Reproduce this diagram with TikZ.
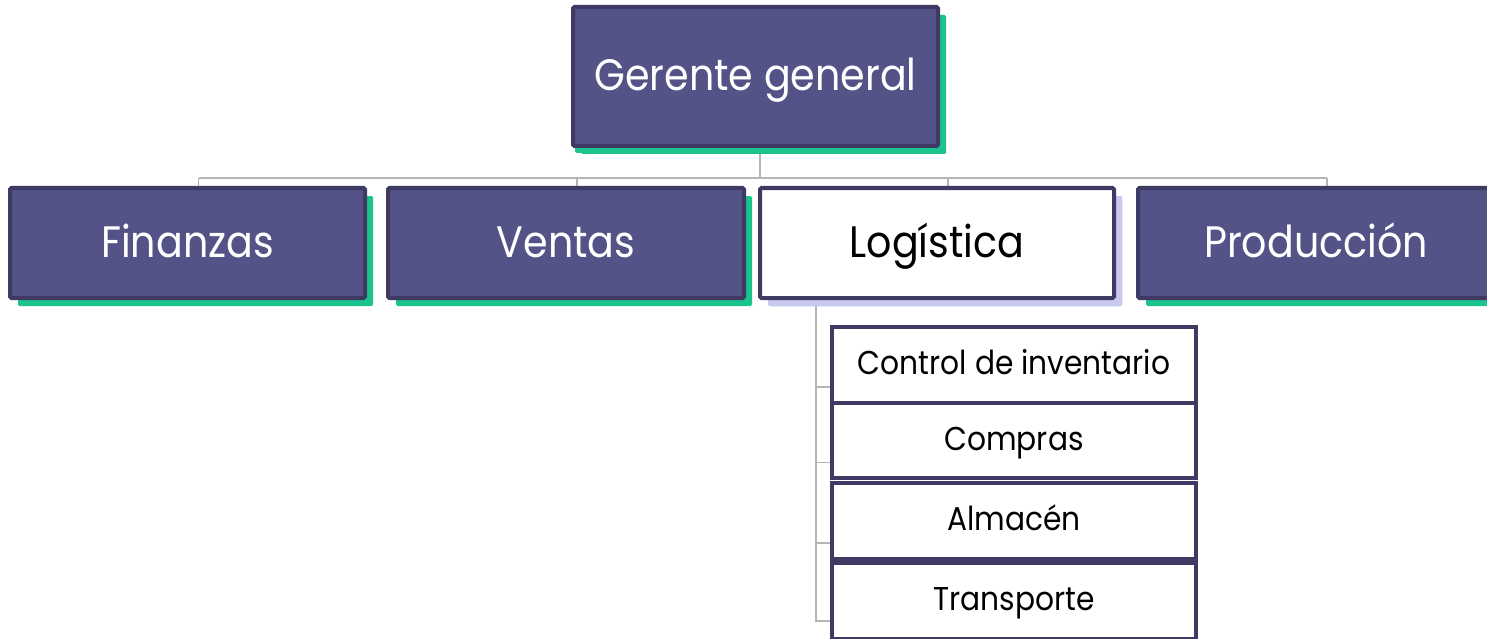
\documentclass[tikz,border=0pt]{standalone}
\usepackage{fontspec}
\setmainfont{Poppins}[FakeStretch=0.9]
\usetikzlibrary{shadows,backgrounds}
\definecolor{boxfill}{HTML}{535388}
\definecolor{boxline}{HTML}{3E3A63}
\definecolor{shadegreen}{HTML}{1BC48F}
\definecolor{shadelav}{HTML}{C9C9F1}
\definecolor{linkgray}{HTML}{B4B4B4}
\tikzset{
  unit/.style={draw=boxline,line width=4pt,rounded corners=1.5pt,inner sep=0pt,
    fill=boxfill,text=white,font=\fontsize{44}{48}\selectfont,
    text height=28pt,text depth=0pt,
    drop shadow={shadow xshift=8pt,shadow yshift=-8pt,fill=shadegreen,opacity=1}},
  chosen/.style={unit,fill=white,text=black,
    drop shadow={shadow xshift=8pt,shadow yshift=-8pt,fill=shadelav,opacity=1}},
  subunit/.style={draw=boxline,line width=4pt,inner sep=0pt,fill=white,text=black,
    minimum width=364pt,font=\fontsize{33}{36}\selectfont,
    text height=19pt,text depth=0pt},
  link/.style={draw=linkgray,line width=1.5pt}
}
\begin{document}
\begin{tikzpicture}[x=1pt,y=-1pt]
\useasboundingbox (0,0) rectangle (1487,639);
% top
\node[unit,minimum width=365pt,minimum height=139pt,
  drop shadow={shadow xshift=2pt,shadow yshift=-7pt,fill=shadegreen,opacity=1}]
  (gg) at (755.5,76.5) {Gerente general};
% departments
\node[unit,minimum width=355pt,minimum height=110pt] (fin) at (187.5,243) {Finanzas};
\node[unit,minimum width=356pt,minimum height=110pt] (ven) at (566,243) {Ventas};
\node[chosen,minimum width=354pt,minimum height=110pt] (log) at (937,243) {Logística};
\node[unit,minimum width=356pt,minimum height=110pt] (pro) at (1316,243) {Producción};
% logistics units
\node[subunit,minimum height=76pt] (inv) at (1014,365) {Control de inventario};
\node[subunit,minimum height=75pt] (com) at (1014,440.5) {Compras};
\node[subunit,minimum height=76pt] (alm) at (1014,521) {Almacén};
\node[subunit,minimum height=76pt] (tra) at (1014,601) {Transporte};
\begin{scope}[on background layer]
\coordinate (bus) at (0,178);
\draw[link] ([xshift=4.5pt]gg.south) -- ([xshift=4.5pt]gg.south |- bus);
\draw[link] ([xshift=11pt]fin.north |- bus) -- ([xshift=11pt]pro.north |- bus);
\foreach \d in {fin,ven,log,pro}
  \draw[link] ([xshift=11pt]\d.north |- bus) -- ([xshift=11pt]\d.north);
\draw[link] ([xshift=58pt]log.south west) |- ([yshift=-20pt]tra.west);
\foreach \s in {inv,com,alm}
  \draw[link] ([yshift=-22pt]\s.west) -- ++(-14,0);
\end{scope}
\end{tikzpicture}
\end{document}
